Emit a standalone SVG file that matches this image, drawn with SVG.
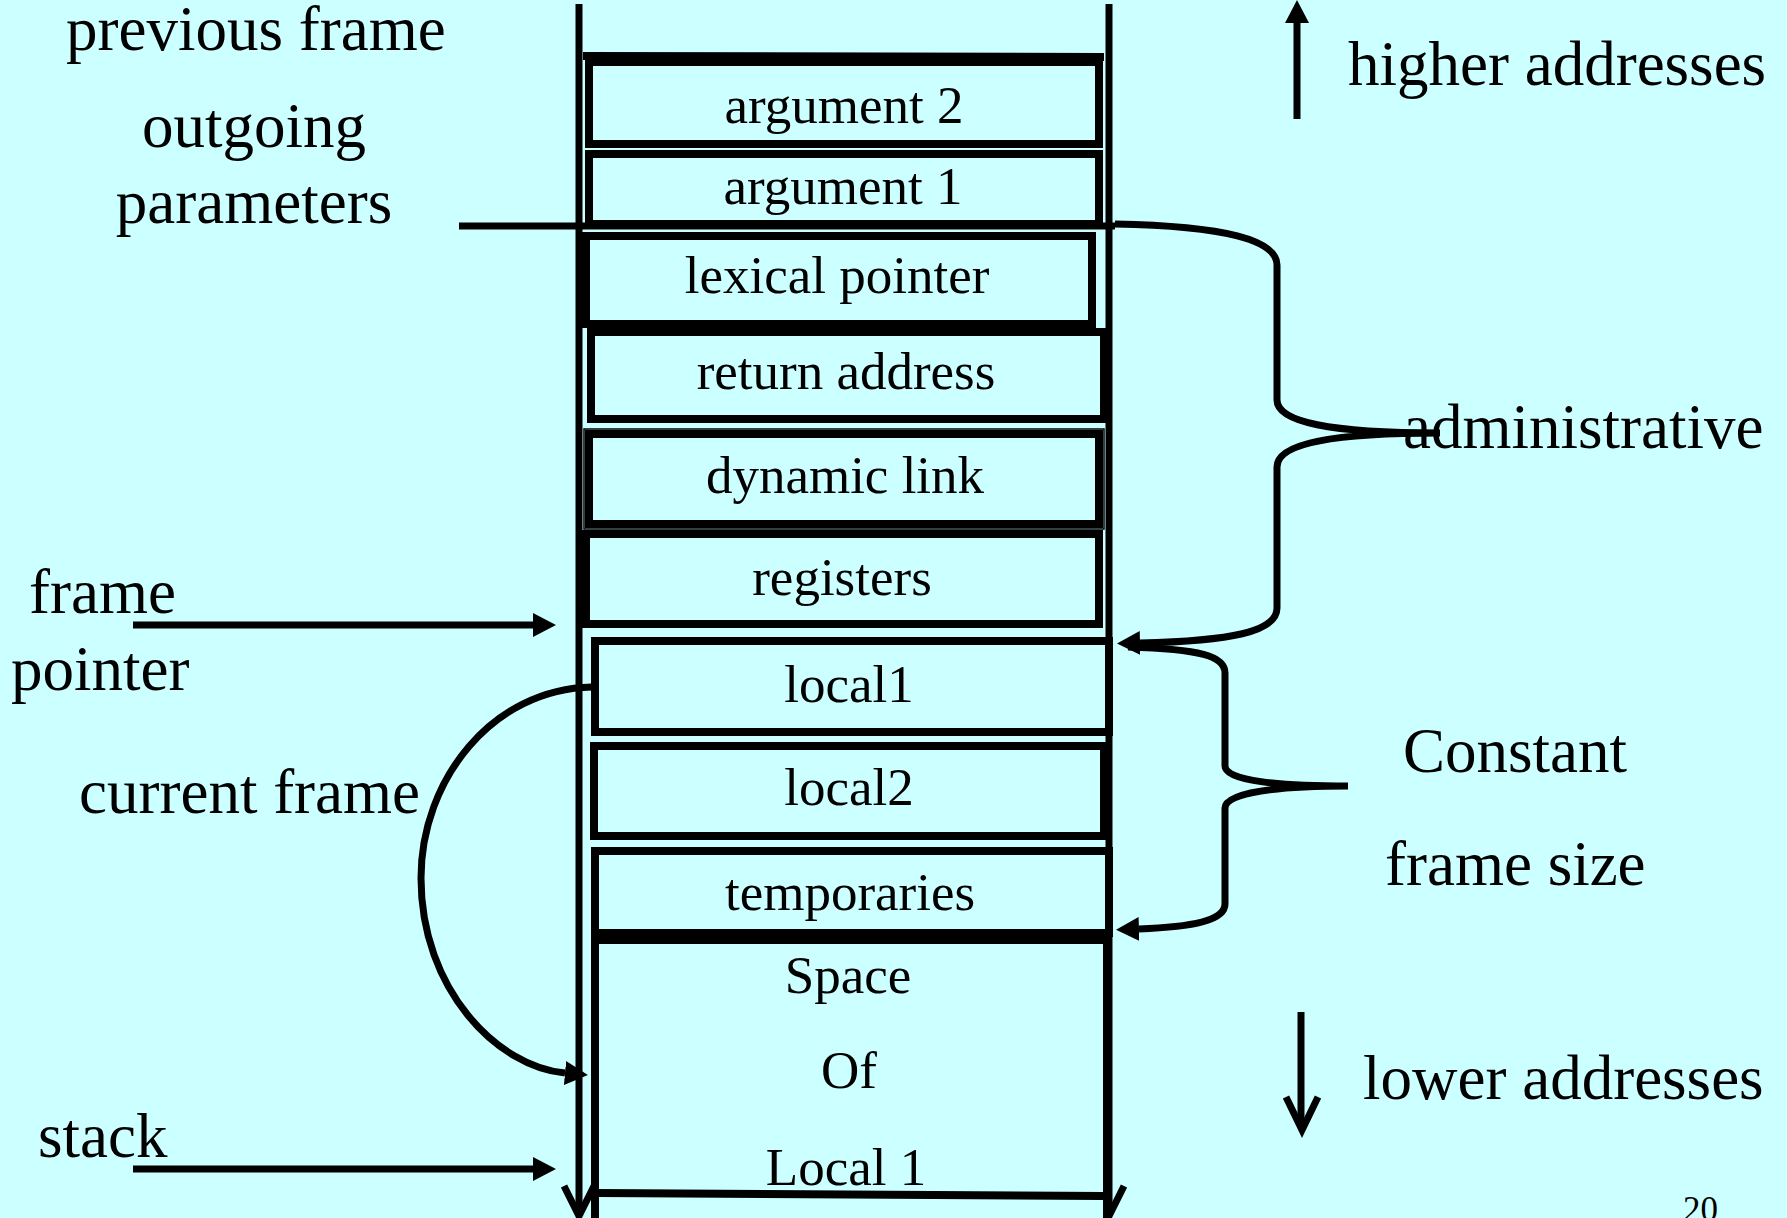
<svg xmlns="http://www.w3.org/2000/svg" width="1787" height="1218" viewBox="0 0 1787 1218">
  <style>
    .bg { fill: #CCFFFF; }
    .box { fill: #CCFFFF; stroke: #000; stroke-width: 8; }
    .cell { font-family: "Liberation Serif", "Times New Roman", serif; font-size: 53px; fill: #000; text-anchor: middle; }
    .label { font-family: "Liberation Serif", "Times New Roman", serif; font-size: 63px; fill: #000; }
    .wire { fill: none; stroke: #000; stroke-width: 7; }
    .rail { fill: none; stroke: #000; stroke-width: 7; }
  </style>
  <defs>
    <marker id="head" markerUnits="userSpaceOnUse" markerWidth="23" markerHeight="24" refX="0" refY="12" orient="auto">
      <path d="M0,0 L23,12 L0,24 z" fill="#000"/>
    </marker>
  </defs>

  <rect class="bg" x="0" y="0" width="1787" height="1218"/>

  <!-- stack rails with open arrowheads at the bottom -->
  <g id="stack-rails">
    <path class="rail" d="M579,4 L579,1216"/>
    <path class="rail" d="M564,1186 L579,1216 L594,1186"/>
    <path class="rail" d="M1109,4 L1109,1216"/>
    <path class="rail" d="M1094,1186 L1109,1216 L1124,1186"/>
  </g>

  <!-- frame cells -->
  <g id="argument2">
    <path d="M583,56 L1104,57" stroke="#000" stroke-width="8"/>
    <rect class="box" x="589" y="62" width="510" height="82"/>
    <text class="cell" x="844" y="123">argument 2</text>
  </g>
  <g id="argument1">
    <rect class="box" x="589" y="154" width="510" height="70"/>
    <text class="cell" x="843" y="204">argument 1</text>
  </g>
  <g id="lexical-pointer">
    <rect class="box" x="586" y="236" width="506" height="88"/>
    <text class="cell" x="837" y="293">lexical pointer</text>
  </g>
  <g id="return-address">
    <rect class="box" x="591" y="332" width="513" height="87"/>
    <text class="cell" x="846" y="389">return address</text>
  </g>
  <g id="dynamic-link">
    <rect x="584" y="429" width="520" height="100" fill="none" stroke="#000" stroke-width="1.5"/>
    <rect class="box" x="589" y="434" width="510" height="90"/>
    <text class="cell" x="845" y="493">dynamic link</text>
  </g>
  <g id="registers">
    <rect class="box" x="586" y="534" width="513" height="90"/>
    <text class="cell" x="842" y="595">registers</text>
  </g>
  <g id="local1">
    <rect class="box" x="595" y="641" width="514" height="91"/>
    <text class="cell" x="849" y="702">local1</text>
  </g>
  <g id="local2">
    <rect class="box" x="594" y="746" width="510" height="90"/>
    <text class="cell" x="849" y="805">local2</text>
  </g>
  <g id="temporaries">
    <rect class="box" x="595" y="851" width="514" height="82"/>
    <text class="cell" x="850" y="910">temporaries</text>
  </g>
  <g id="space-of-local1">
    <rect class="box" x="595" y="940" width="512" height="300"/>
    <path d="M597,1193 L1103,1196" stroke="#000" stroke-width="8"/>
    <text class="cell" x="848" y="993">Space</text>
    <text class="cell" x="849" y="1088">Of</text>
    <text class="cell" x="846" y="1185">Local 1</text>
  </g>

  <!-- side labels -->
  <g id="labels">
    <text class="label" x="66" y="50">previous frame</text>
    <text class="label" x="254" y="147" text-anchor="middle">outgoing</text>
    <text class="label" x="254" y="223" text-anchor="middle">parameters</text>
    <text class="label" x="29" y="613">frame</text>
    <text class="label" x="11" y="690">pointer</text>
    <text class="label" x="79" y="813">current frame</text>
    <text class="label" x="38" y="1157">stack</text>
    <text class="label" x="1348" y="85">higher addresses</text>
    <text class="label" x="1403" y="448">administrative</text>
    <text class="label" x="1403" y="772">Constant</text>
    <text class="label" x="1385" y="885">frame size</text>
    <text class="label" x="1363" y="1099">lower addresses</text>
    <text x="1683" y="1221" font-family="Liberation Serif, serif" font-size="35" fill="#000">20</text>
  </g>

  <!-- connectors -->
  <g id="connectors">
    <!-- boundary between previous and current frame -->
    <path class="wire" d="M459,226 L1115,226"/>
    <!-- frame pointer / stack pointer -->
    <path class="wire" d="M133,625 L533,625" marker-end="url(#head)"/>
    <path class="wire" d="M133,1169 L533,1169" marker-end="url(#head)"/>
    <!-- current frame arc -->
    <path class="wire" d="M592,687 C492,689 421,780 421,878 C421,990 498,1067 565,1073" marker-end="url(#head)"/>
    <!-- administrative brace -->
    <path class="wire" d="M1115,224 C1225,226 1277,240 1277,265 L1277,400 C1277,422 1330,433 1440,433 C1330,433 1277,444 1277,467 L1277,608 C1277,632 1230,641 1140,643" marker-end="url(#head)"/>
    <!-- constant frame size brace -->
    <path class="wire" d="M1128,647 C1200,649 1225,656 1225,673 L1225,766 C1225,781 1280,786 1348,786 C1280,786 1225,792 1225,808 L1225,904 C1225,920 1195,927 1139,929" marker-end="url(#head)"/>
    <!-- address direction arrows -->
    <path class="wire" d="M1297,119 L1297,23" stroke-width="8" marker-end="url(#head)"/>
    <path class="wire" d="M1301,1012 L1301,1128"/>
    <path class="wire" d="M1286,1097 L1302,1130 L1318,1097"/>
  </g>
</svg>
